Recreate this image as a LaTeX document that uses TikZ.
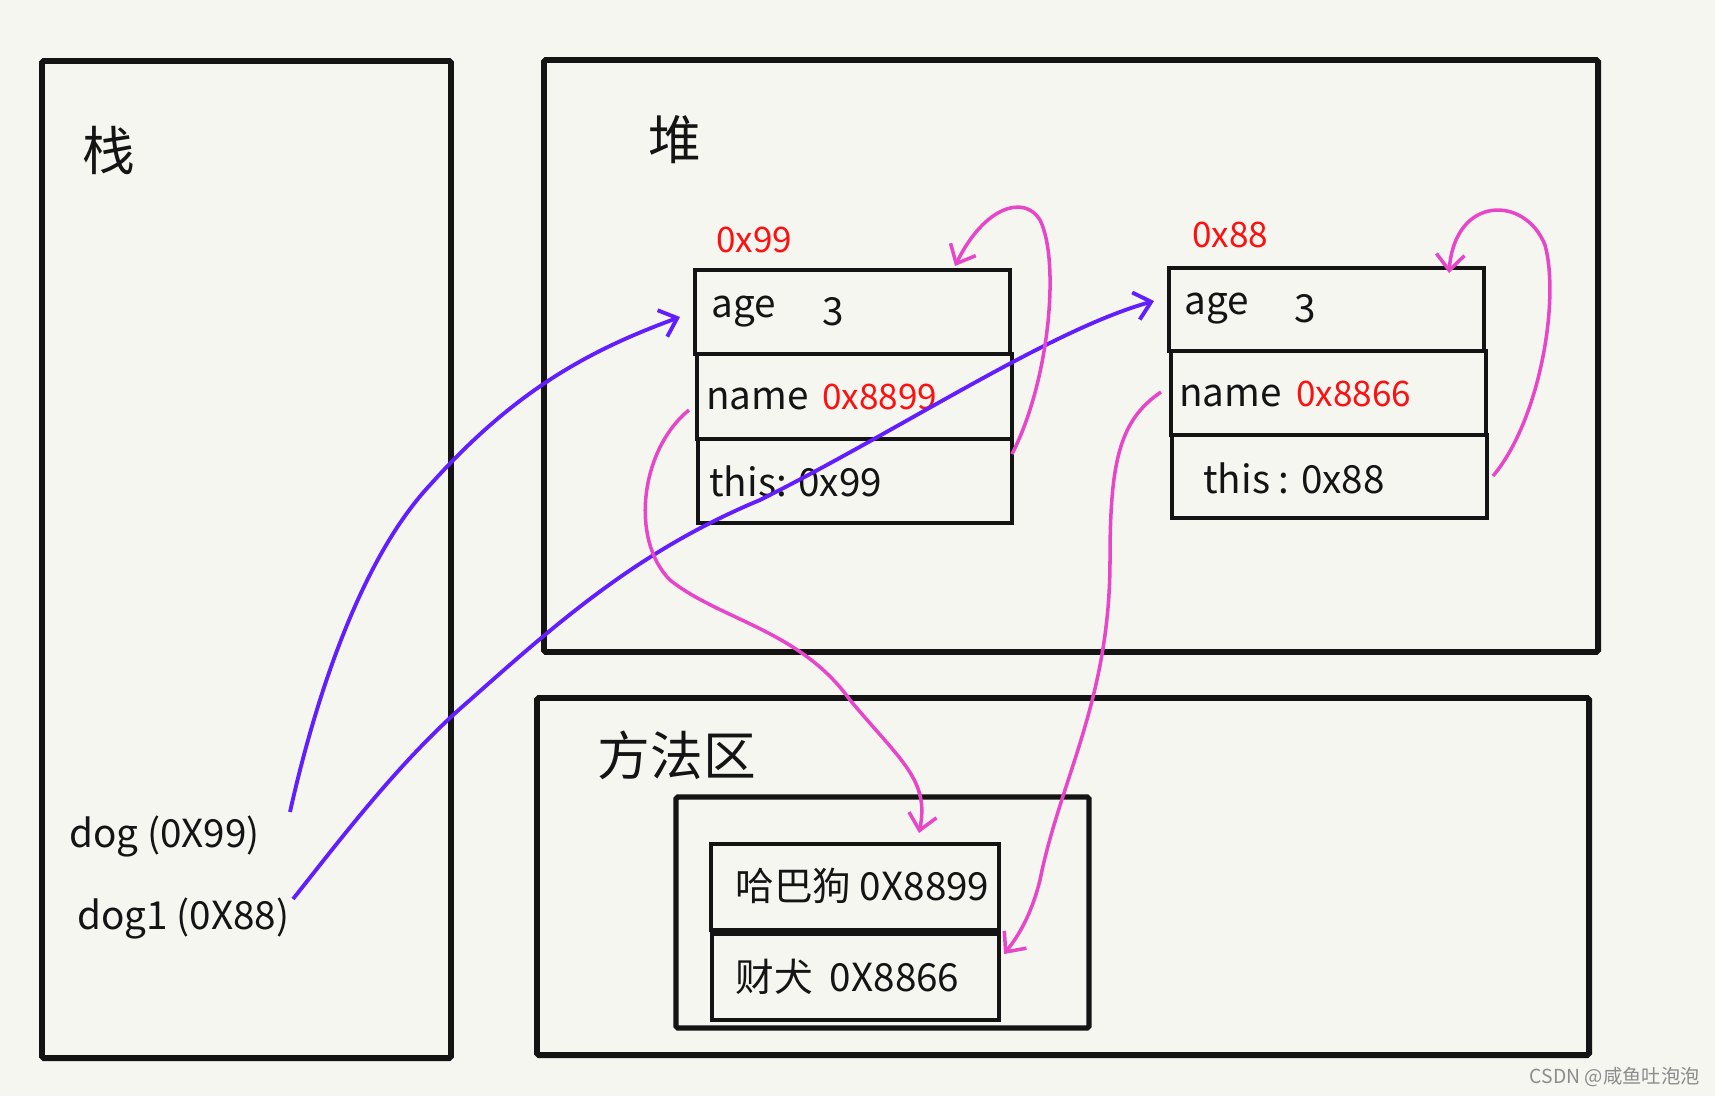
\documentclass[tikz,border=0pt]{standalone}
\usepackage{fontspec}
\setmainfont{Noto Sans CJK SC}
\usetikzlibrary{arrows.meta,fit}
\definecolor{bg}{RGB}{245,246,240}
\definecolor{inkblue}{RGB}{98,30,255}
\definecolor{inkpink}{RGB}{232,70,200}
\definecolor{inkred}{RGB}{255,16,16}
\definecolor{ink}{RGB}{20,20,20}
\tikzset{
  area/.style={draw=ink, line width=3.4pt, inner sep=0pt, rounded corners=1pt},
  cell/.style={draw=ink, line width=2.6pt, inner sep=0pt},
  txt/.style={anchor=west, inner sep=0pt, font=\fontsize{22}{26}\selectfont, text=ink},
  redtxt/.style={anchor=west, inner sep=0pt, font=\fontsize{20}{24}\selectfont, text=inkred},
  title/.style={anchor=center, inner sep=0pt, font=\fontsize{30}{34}\selectfont, text=ink},
  bluearrow/.style={draw=inkblue, line width=2.2pt, -{Straight Barb[length=9pt,width=16pt,line width=2.2pt]}},
  pinkarrow/.style={draw=inkpink, line width=2pt, -{Straight Barb[length=9pt,width=16pt,line width=2pt]}}
}
\begin{document}
\begin{tikzpicture}[x=0.02cm,y=-0.02cm]
\fill[bg] (0,0) rectangle (1715,1096);
\useasboundingbox (0,0) rectangle (1715,1096);

% areas
\node[area, fit={(42,61)(451,1058)}] (stack) {};
\node[area, fit={(544,60)(1598,652)}] (heap) {};
\node[area, fit={(537,698)(1589,1055)}] (method) {};

\node[title] (tstack) at (109,150) {栈};
\node[title] (theap) at (675,140) {堆};
\node[title] (tmethod) at (677,755) {方法区};

% object 0x99
\node[cell, fit={(695,270)(1010,354)}] (a99) {};
\node[cell, fit={(697,354)(1012,439)}] (n99) {};
\node[cell, fit={(698,439)(1012,523)}] (t99) {};
\node[redtxt] (l99) at (716,240) {0x99};
\node[txt] (age99) at (711,312) {age};
\node[txt] (v99) at (822,312) {3};
\node[txt] (name99) at (706,399) {name};
\node[redtxt] (addr99) at (822,397) {0x8899};
\node[txt] (this99) at (709,481) {this: 0x99};

% object 0x88
\node[cell, fit={(1169,268)(1484,351)}] (a88) {};
\node[cell, fit={(1171,351)(1486,435)}] (n88) {};
\node[cell, fit={(1172,435)(1487,518)}] (t88) {};
\node[redtxt] (l88) at (1192,235) {0x88};
\node[txt] (age88) at (1184,309) {age};
\node[txt] (v88) at (1294,309) {3};
\node[txt] (name88) at (1179,396) {name};
\node[redtxt] (addr88) at (1296,394) {0x8866};
\node[txt] (this88) at (1203,478) {this : 0x88};

% method area contents
\node[area, line width=3pt, fit={(676,797)(1089,1028)}] (pool) {};
\node[cell, fit={(711,844)(999,930)}] (s1) {};
\node[cell, fit={(712,934)(999,1020)}] (s2) {};
\node[txt] (hb) at (735,886) {哈巴狗 0X8899};
\node[txt] (cq) at (735,977) {财犬 \ 0X8866};

% stack variables
\node[txt] (dog) at (69,837) {dog (0X99)};
\node[txt] (dog1) at (77,919) {dog1 (0X88)};

% arrow endpoints
\coordinate (b1s) at (290,812);
\coordinate (b1e) at (680,317);
\coordinate (b2s) at (293,899);
\coordinate (b2e) at (1154,301);
\coordinate (p1s) at (1012,454);
\coordinate (p1e) at (955,266);
\coordinate (p2s) at (1493,476);
\coordinate (p2e) at (1449,273);
\coordinate (p3s) at (689,410);
\coordinate (p3e) at (919,833);
\coordinate (p4s) at (1161,392);
\coordinate (p4e) at (1004,954);

% blue references
\draw[bluearrow] (b1s) .. controls (315,700) and (360,560) .. (430,485)
   .. controls (515,390) and (590,350) .. (b1e);
\draw[bluearrow] (b2s) .. controls (340,840) and (400,760) .. (470,700)
   .. controls (560,620) and (640,550) .. (760,500)
   .. controls (900,430) and (1050,330) .. (b2e);

% pink references
\draw[pinkarrow] (p1s) .. controls (1050,380) and (1060,260) .. (1040,220)
   .. controls (1025,195) and (985,205) .. (p1e);
\draw[pinkarrow] (p2s) .. controls (1540,420) and (1560,300) .. (1545,245)
   .. controls (1525,195) and (1455,195) .. (p2e);
\draw[pinkarrow] (p3s) .. controls (640,450) and (630,540) .. (670,580)
   .. controls (720,620) and (800,630) .. (850,700)
   .. controls (900,760) and (930,780) .. (p3e);
\draw[pinkarrow] (p4s) .. controls (1120,420) and (1110,460) .. (1110,560)
   .. controls (1110,700) and (1060,780) .. (1040,880)
   .. controls (1030,920) and (1015,940) .. (p4e);

% watermark
\node[anchor=east, inner sep=0pt, font=\fontsize{11}{13}\selectfont, text=black!45] (wm) at (1700,1077) {CSDN @咸鱼吐泡泡};
\end{tikzpicture}
\end{document}
